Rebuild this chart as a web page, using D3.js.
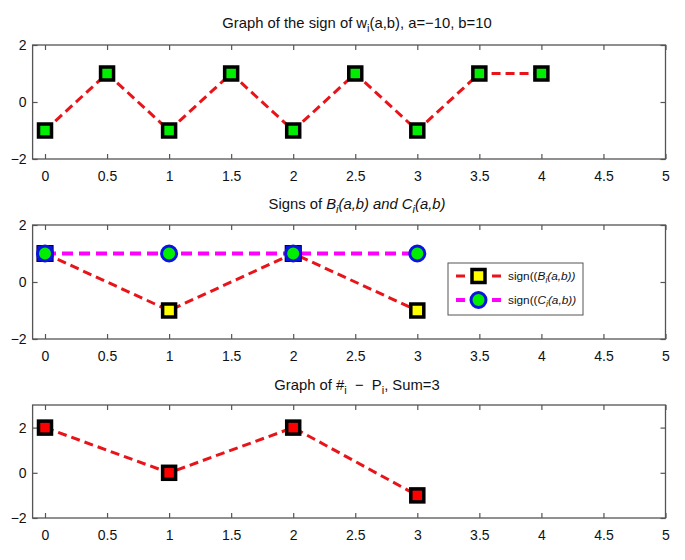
<!DOCTYPE html>
<html><head><meta charset="utf-8">
<script src="https://cdn.jsdelivr.net/npm/d3@7"></script>
<style>body{margin:0;background:#fff}svg{display:block}text{font-family:"Liberation Sans",Arial,sans-serif;white-space:pre}</style>
</head><body>
<script>
// Data
const wX = [0, 0.5, 1, 1.5, 2, 2.5, 3, 3.5, 4];
const wSign = [-1, 1, -1, 1, -1, 1, -1, 1, 1];
const bcX = [0, 1, 2, 3];
const bSign = [1, -1, 1, -1];
const cSign = [1, 1, 1, 1];
const pX = [0, 1, 2, 3];
const pDiff = [2, 0, 2, -1];
const xTicks = [0, 0.5, 1, 1.5, 2, 2.5, 3, 3.5, 4, 4.5, 5];
const xTickLabels = ["0","0.5","1","1.5","2","2.5","3","3.5","4","4.5","5"];
const yTicks = [-2, 0, 2];
const yTickLabels = ["\u22122","0","2"];

const W = 685, H = 560;
const svg = d3.select("body").append("svg").attr("width", W).attr("height", H);

const x = d3.scaleLinear().domain([-0.1, 5]).range([32.6, 665.5]);
const axisColor = "#555";

function panel(top, bottom, yDomain) {
  const y = d3.scaleLinear().domain(yDomain).range([bottom, top]);
  const g = svg.append("g");
  g.append("rect").attr("x", x(-0.1)).attr("y", top).attr("width", x(5) - x(-0.1)).attr("height", bottom - top)
    .attr("fill", "#fff").attr("stroke", axisColor).attr("stroke-width", 1.3);
  const bx = g.append("g").attr("transform", `translate(0,${bottom})`)
    .call(d3.axisBottom(x).tickValues(xTicks).tickSize(-5).tickPadding(12).tickFormat((d,i)=>xTickLabels[i]));
  const tx = g.append("g").attr("transform", `translate(0,${top})`)
    .call(d3.axisTop(x).tickValues(xTicks).tickSize(-5).tickFormat(""));
  const ly = g.append("g").attr("transform", `translate(${x(-0.1)},0)`)
    .call(d3.axisLeft(y).tickValues(yTicks).tickSize(-5).tickPadding(6).tickFormat((d)=>yTickLabels[yTicks.indexOf(d)]));
  const ry = g.append("g").attr("transform", `translate(${x(5)},0)`)
    .call(d3.axisRight(y).tickValues(yTicks).tickSize(-5).tickFormat(""));
  [bx, tx, ly, ry].forEach(a => {
    a.select(".domain").remove();
    a.selectAll("line").attr("stroke", axisColor).attr("stroke-width", 1.2);
    a.selectAll("text").attr("font-size", 14).attr("fill", "#111").attr("font-family", "Liberation Sans, Arial, sans-serif");
  });
  return {g, y};
}

function squares(g, xs, ys, y, fill) {
  g.selectAll(null).data(xs).enter().append("rect")
    .attr("x", (d) => x(d) - 6.5).attr("y", (d,i) => y(ys[i]) - 6.5)
    .attr("width", 13).attr("height", 13)
    .attr("fill", fill).attr("stroke", "#000").attr("stroke-width", 3.5);
}
function dashLine(g, xs, ys, y, color, width, dash) {
  g.append("path").datum(xs.map((d,i)=>[d, ys[i]]))
    .attr("d", d3.line().x(d=>x(d[0])).y(d=>y(d[1])))
    .attr("fill", "none").attr("stroke", color).attr("stroke-width", width).attr("stroke-dasharray", dash);
}

function title(yb, parts) {
  const t = svg.append("text").attr("x", 357).attr("y", yb).attr("text-anchor", "middle").attr("font-size", 14.8).attr("fill", "#111");
  parts.forEach(p => {
    const s = t.append("tspan").text(p.t);
    if (p.sub) s.attr("font-size", 11).attr("dy", 4);
    if (p.up) s.attr("dy", -4);
    if (p.it) s.attr("font-style", "italic");
  });
}

// Panel 1
const p1 = panel(45, 159, [-2, 2]);
dashLine(p1.g, wX, wSign, p1.y, "#e8141a", 3, "9,5");
squares(p1.g, wX, wSign, p1.y, "#00ee00");
title(28, [{t:"Graph of the sign of w"},{t:"i",sub:true},{t:"(a,b), a=\u221210, b=10",up:true}]);

// Panel 2
const p2 = panel(225, 339, [-2, 2]);
dashLine(p2.g, bcX, bSign, p2.y, "#e8141a", 3, "9,5");
dashLine(p2.g, bcX, cSign, p2.y, "#ff00ff", 4, "11,6");
squares(p2.g, bcX, bSign, p2.y, "#ffff00");
const ov = bcX.filter((d,i)=>bSign[i]===cSign[i]);
p2.g.selectAll(null).data(ov).enter().append("rect")
  .attr("x", d=>x(d)-8).attr("y", p2.y(1)-8).attr("width", 16).attr("height", 16)
  .attr("fill", "#0a14e0").attr("stroke", "#000060").attr("stroke-width", 1);
p2.g.selectAll(null).data(bcX).enter().append("circle")
  .attr("cx", d=>x(d)).attr("cy", (d,i)=>p2.y(cSign[i])).attr("r", 7.5)
  .attr("fill", "#00ee00").attr("stroke", "#0a14e0").attr("stroke-width", 3);
title(209, [{t:"Signs of "},{t:"B",it:true},{t:"i",sub:true,it:true},{t:"(a,b) and C",up:true,it:true},{t:"i",sub:true,it:true},{t:"(a,b)",up:true,it:true}]);

// Legend
const lg = svg.append("g");
lg.append("rect").attr("x", 448).attr("y", 263).attr("width", 135).attr("height", 52)
  .attr("fill", "#fff").attr("stroke", "#555").attr("stroke-width", 1);
const legItems = [
  {color:"#e8141a", w:3, type:"sq", label:"B"},
  {color:"#ff00ff", w:4, type:"ci", label:"C"}
];
legItems.forEach((it, i) => {
  const cy = 276 + i * 24;
  lg.append("line").attr("x1", 456).attr("x2", 501).attr("y1", cy).attr("y2", cy)
    .attr("stroke", it.color).attr("stroke-width", it.w).attr("stroke-dasharray", "9,9");
  if (it.type === "sq") {
    lg.append("rect").attr("x", 472).attr("y", cy-6.5).attr("width", 13).attr("height", 13)
      .attr("fill", "#ffff00").attr("stroke", "#000").attr("stroke-width", 3.5);
  } else {
    lg.append("circle").attr("cx", 478.5).attr("cy", cy).attr("r", 7.5)
      .attr("fill", "#00ee00").attr("stroke", "#0a14e0").attr("stroke-width", 3);
  }
  const t = lg.append("text").attr("x", 508).attr("y", cy + 4).attr("font-size", 11.8).attr("fill", "#111");
  t.append("tspan").text("sign((");
  t.append("tspan").text(it.label).attr("font-style", "italic");
  t.append("tspan").text("i").attr("font-size", 8.5).attr("dy", 3).attr("font-style", "italic");
  t.append("tspan").text("(a,b))").attr("dy", -3).attr("font-style", "italic");
});

// Panel 3
const p3 = panel(405, 518, [-2, 3]);
dashLine(p3.g, pX, pDiff, p3.y, "#e8141a", 3, "9,5");
squares(p3.g, pX, pDiff, p3.y, "#ff0000");
title(390, [{t:"Graph of #"},{t:"i",sub:true},{t:"  \u2212  P",up:true},{t:"i",sub:true},{t:", Sum=3",up:true}]);
</script>
</body></html>
